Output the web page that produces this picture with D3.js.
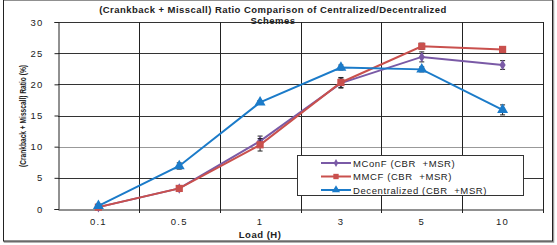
<!DOCTYPE html>
<html>
<head>
<meta charset="utf-8">
<script src="https://cdn.jsdelivr.net/npm/d3@7"></script>
<style>
  body { margin: 0; background: #fff; }
  text { font-family: Arial, "Liberation Sans", sans-serif; }
</style>
</head>
<body>
<div id="chart"></div>
<script>
var width = 557, height = 245;

// data
var loads = ["0.1", "0.5", "1", "3", "5", "10"];
var yTicks = [0, 5, 10, 15, 20, 25, 30];
var mconf = [0.3, 3.3, 10.9, 20.2, 24.4, 23.1];
var mconfErr = [0.2, 0.3, 0.8, 0.8, 0.8, 0.7];
var mmcf = [0.3, 3.3, 10.3, 20.3, 26.1, 25.6];
var mmcfErr = [0.2, 0.3, 1.0, 0.8, 0.5, 0.3];
var decen = [0.5, 6.9, 17.1, 22.7, 22.4, 15.9];
var decenErr = [0.2, 0.5, 0.3, 0.4, 0.4, 0.8];

var series = [
    {name: "MConF (CBR  +MSR)", values: mconf, err: mconfErr, color: "#7a5aa6", marker: "diamond"},
    {name: "MMCF (CBR  +MSR)", values: mmcf, err: mmcfErr, color: "#c9504d", marker: "square"},
    {name: "Decentralized (CBR  +MSR)", values: decen, err: decenErr, color: "#1b7bc9", marker: "triangle"}
];

var margin = {left: 58, right: 14, top: 22, bottom: 36};
var svg = d3.select('#chart').append('svg')
        .attr('width', width)
        .attr('height', height);

// outer frame
svg.append('rect').attr('x', 4.5).attr('y', 1).attr('width', 549).attr('height', 241)
        .style('fill', 'none').style('stroke', '#999').style('stroke-width', 1.5);
svg.append('rect').attr('x', 3.5).attr('y', 0).attr('width', 549).attr('height', 241)
        .style('fill', '#fff').style('stroke', '#222').style('stroke-width', 1);

var x = d3.scaleBand().domain(loads).range([margin.left, width - margin.right]);
var y = d3.scaleLinear().domain([0, 30]).range([height - margin.bottom, margin.top]);

// horizontal gridlines
svg.append('g').selectAll('line').data(yTicks.filter(function (d) { return d > 0; }))
        .enter().append('line')
        .attr('x1', margin.left).attr('x2', width - margin.right)
        .attr('y1', function (d) { return Math.round(y(d)) + 0.5; })
        .attr('y2', function (d) { return Math.round(y(d)) + 0.5; })
        .style('stroke', function (d) { return d == 10 ? '#999' : '#333'; })
        .style('stroke-width', 1);

// vertical gridlines at category boundaries
var bounds = loads.map(function (d) { return x(d) + x.bandwidth(); });
svg.append('g').selectAll('line').data(bounds).enter().append('line')
        .attr('x1', function (d) { return Math.round(d) + 0.5; })
        .attr('x2', function (d) { return Math.round(d) + 0.5; })
        .attr('y1', margin.top).attr('y2', height - margin.bottom + 4)
        .style('stroke', '#222');

// y axis
var yAxis = svg.append('g').attr('transform', 'translate(' + (margin.left + 0.5) + ',0)')
        .call(d3.axisLeft(y).tickValues(yTicks).tickSize(4).tickPadding(11));
yAxis.select('.domain').attr('stroke', '#222');
yAxis.selectAll('.tick line').attr('stroke', '#222');
yAxis.selectAll('text').style('font-size', '9.5px').style('letter-spacing', '1.2px').attr('fill', '#222');

// x axis
var xAxis = svg.append('g').attr('transform', 'translate(0,' + (Math.round(y(0)) + 0.5) + ')')
        .call(d3.axisBottom(x).tickSize(0).tickPadding(9));
xAxis.select('.domain').attr('stroke', '#222');
xAxis.selectAll('text').style('font-size', '9.5px').style('letter-spacing', '1.2px').attr('fill', '#222');

function markerPath(type, size) {
    if (type == 'diamond') return d3.symbol().type(d3.symbolDiamond).size(size * 0.8)();
    if (type == 'square') return d3.symbol().type(d3.symbolSquare).size(size * 1.3)();
    return d3.symbol().type(d3.symbolTriangle).size(size * 1.3)();
}

var cx = function (i) { return x(loads[i]) + x.bandwidth() / 2; };
var line = d3.line().x(function (d, i) { return cx(i); }).y(function (d) { return y(d); });

series.forEach(function (s) {
    var g = svg.append('g');
    // error bars
    s.values.forEach(function (v, i) {
        var e = s.err[i], px = cx(i);
        g.append('line').attr('x1', px).attr('x2', px).attr('y1', y(v - e)).attr('y2', y(v + e)).style('stroke', '#222');
        g.append('line').attr('x1', px - 2.5).attr('x2', px + 2.5).attr('y1', y(v - e)).attr('y2', y(v - e)).style('stroke', '#222');
        g.append('line').attr('x1', px - 2.5).attr('x2', px + 2.5).attr('y1', y(v + e)).attr('y2', y(v + e)).style('stroke', '#222');
    });
    g.append('path').datum(s.values).attr('d', line)
            .style('fill', 'none').style('stroke', s.color).style('stroke-width', 2);
    g.selectAll('path.m').data(s.values).enter().append('path').attr('class', 'm')
            .attr('d', markerPath(s.marker, 40))
            .attr('transform', function (d, i) { return 'translate(' + cx(i) + ',' + y(d) + ')'; })
            .style('fill', s.color);
});

// title
var title = svg.append('text').attr('x', 273).attr('y', 12.5).attr('text-anchor', 'middle')
        .style('font-size', '9.5px').style('font-weight', 'bold').style('letter-spacing', '0.45px').attr('fill', '#222');
title.append('tspan').attr('x', 273).attr('dy', 0).text('(Crankback + Misscall) Ratio Comparison of Centralized/Decentralized');
title.append('tspan').attr('x', 273).attr('dy', 11).text('Schemes');

// axis titles
svg.append('text').attr('transform', 'translate(26,116)rotate(-90)').attr('text-anchor', 'middle')
        .style('font-size', '9px').style('font-weight', 'bold').attr('fill', '#222')
        .attr('textLength', 102).attr('lengthAdjust', 'spacingAndGlyphs')
        .text('(Crankback + Misscall) Ratio (%)');
svg.append('text').attr('x', x('1') + x.bandwidth() / 2).attr('y', 238).attr('text-anchor', 'middle')
        .style('font-size', '9.5px').style('font-weight', 'bold').style('letter-spacing', '0.5px').attr('fill', '#222')
        .text('Load (H)');

// legend
var legend = svg.append('g').attr('transform', 'translate(297,155)');
legend.append('rect').attr('x', 0.5).attr('y', 0.5).attr('width', 226).attr('height', 40)
        .style('fill', '#fff').style('stroke', '#333');
series.forEach(function (s, i) {
    var ly = 8 + i * 13.5;
    legend.append('line').attr('x1', 24).attr('x2', 54).attr('y1', ly).attr('y2', ly)
            .style('stroke', s.color).style('stroke-width', 2);
    legend.append('path').attr('d', markerPath(s.marker, 22))
            .attr('transform', 'translate(39,' + ly + ')').style('fill', s.color);
    legend.append('text').attr('x', 56).attr('y', ly + 3.5)
            .style('font-size', '9.5px').style('letter-spacing', '0.6px').style('white-space', 'pre').attr('fill', '#222')
            .text(s.name);
});
</script>
</body>
</html>
